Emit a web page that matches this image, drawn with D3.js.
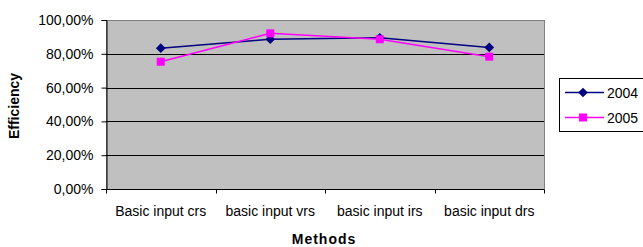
<!DOCTYPE html>
<head>
<script src="https://d3js.org/d3.v7.min.js"></script>
<style>
    body { margin: 0; background: #fff; }
    svg { display: block; font-family: "Liberation Sans", Arial, sans-serif; }
    .tick text { font-size: 14px; fill: #000; }
    .title { font-size: 14px; font-weight: bold; }
</style>
</head>
<body>
<script>
    var methods = ["Basic input crs", "basic input vrs", "basic input irs", "basic input drs"];
    var years = ["2004", "2005"];
    var eff2004 = [0.833, 0.886, 0.895, 0.838];
    var eff2005 = [0.753, 0.921, 0.886, 0.783];
    var yTicks = [0, 0.2, 0.4, 0.6, 0.8, 1.0];
    var colors = ["#000080", "#ff00ff"];

    var width = 643, height = 247;
    var pLeft = 106, pRight = 544, pTop = 20, pBottom = 189;

    var svg = d3.select("body").append("svg")
        .attr("width", width)
        .attr("height", height);

    var xScale = d3.scaleBand().domain(methods).range([pLeft, pRight]);
    var yScale = d3.scaleLinear().domain([0, 1]).range([pBottom, pTop]);

    // plot area
    svg.append("rect")
        .attr("x", pLeft + 0.5).attr("y", pTop + 0.5)
        .attr("width", pRight - pLeft).attr("height", pBottom - pTop)
        .attr("fill", "#c0c0c0")
        .attr("stroke", "#808080");

    // gridlines
    svg.selectAll(".grid").data(yTicks.slice(1, -1)).enter().append("line")
        .attr("x1", pLeft).attr("x2", pRight)
        .attr("y1", function(d){ return Math.round(yScale(d)) + 0.5; })
        .attr("y2", function(d){ return Math.round(yScale(d)) + 0.5; })
        .attr("stroke", "#000").attr("stroke-width", 1);

    var fmt = function(d){ return d3.format(".2f")(d * 100).replace(".", ",") + "%"; };

    var yaxis = d3.axisLeft(yScale).tickValues(yTicks).tickFormat(fmt).tickSize(5).tickPadding(8);
    svg.append("g")
        .attr("transform", "translate(" + (pLeft + 0.5) + ",0)")
        .call(yaxis)
        .call(function(g){ g.select(".domain").attr("stroke", "#000"); });

    var xaxis = d3.axisBottom(xScale).tickSize(0).tickPadding(17);
    var gx = svg.append("g")
        .attr("transform", "translate(0," + (pBottom + 0.5) + ")")
        .call(xaxis);
    gx.select(".domain").attr("d", "M" + pLeft + ",0H" + pRight).attr("stroke", "#000");
    // ticks at category boundaries
    var bounds = methods.map(function(m){ return xScale(m); }).concat([pRight]);
    gx.selectAll(".bnd").data(bounds).enter().append("line")
        .attr("x1", function(d){ return Math.round(d) + 0.5; })
        .attr("x2", function(d){ return Math.round(d) + 0.5; })
        .attr("y1", 0).attr("y2", 4)
        .attr("stroke", "#000");

    // axis titles
    svg.append("text").attr("class", "title")
        .attr("transform", "translate(19,106) rotate(-90)")
        .attr("text-anchor", "middle")
        .text("Efficiency");
    svg.append("text").attr("class", "title")
        .attr("x", 324).attr("y", 244)
        .attr("text-anchor", "middle")
        .style("letter-spacing", "1px")
        .text("Methods");

    var series = [eff2004, eff2005];
    var cx = function(i){ return xScale(methods[i]) + xScale.bandwidth() / 2; };
    var line = d3.line()
        .x(function(d, i){ return cx(i); })
        .y(function(d){ return yScale(d); });

    function marker(g, k, x, y) {
        if (k === 0) {
            g.append("path")
                .attr("d", d3.symbol(d3.symbolDiamond2, 60)())
                .attr("transform", "translate(" + x + "," + y + ")")
                .attr("fill", colors[k]);
        } else {
            g.append("rect")
                .attr("x", x - 4).attr("y", y - 4)
                .attr("width", 8).attr("height", 8)
                .attr("fill", colors[k]);
        }
    }

    series.forEach(function(s, k){
        svg.append("path")
            .datum(s)
            .attr("d", line)
            .attr("fill", "none")
            .attr("stroke", colors[k])
            .attr("stroke-width", 1.5);
    });
    series.forEach(function(s, k){
        var g = svg.append("g");
        s.forEach(function(v, i){ marker(g, k, cx(i), yScale(v)); });
    });

    // legend
    var lg = svg.append("g");
    lg.append("rect")
        .attr("x", 559.5).attr("y", 78.5)
        .attr("width", 90).attr("height", 53)
        .attr("fill", "#fff").attr("stroke", "#000");
    years.forEach(function(y, k){
        var ly = 92.5 + k * 25;
        lg.append("line")
            .attr("x1", 565).attr("x2", 604)
            .attr("y1", ly).attr("y2", ly)
            .attr("stroke", colors[k]).attr("stroke-width", 1.5);
        marker(lg, k, 583, ly);
        lg.append("text")
            .attr("x", 607).attr("y", ly + 5)
            .style("font-size", "14px")
            .text(y);
    });
</script>
</body>
